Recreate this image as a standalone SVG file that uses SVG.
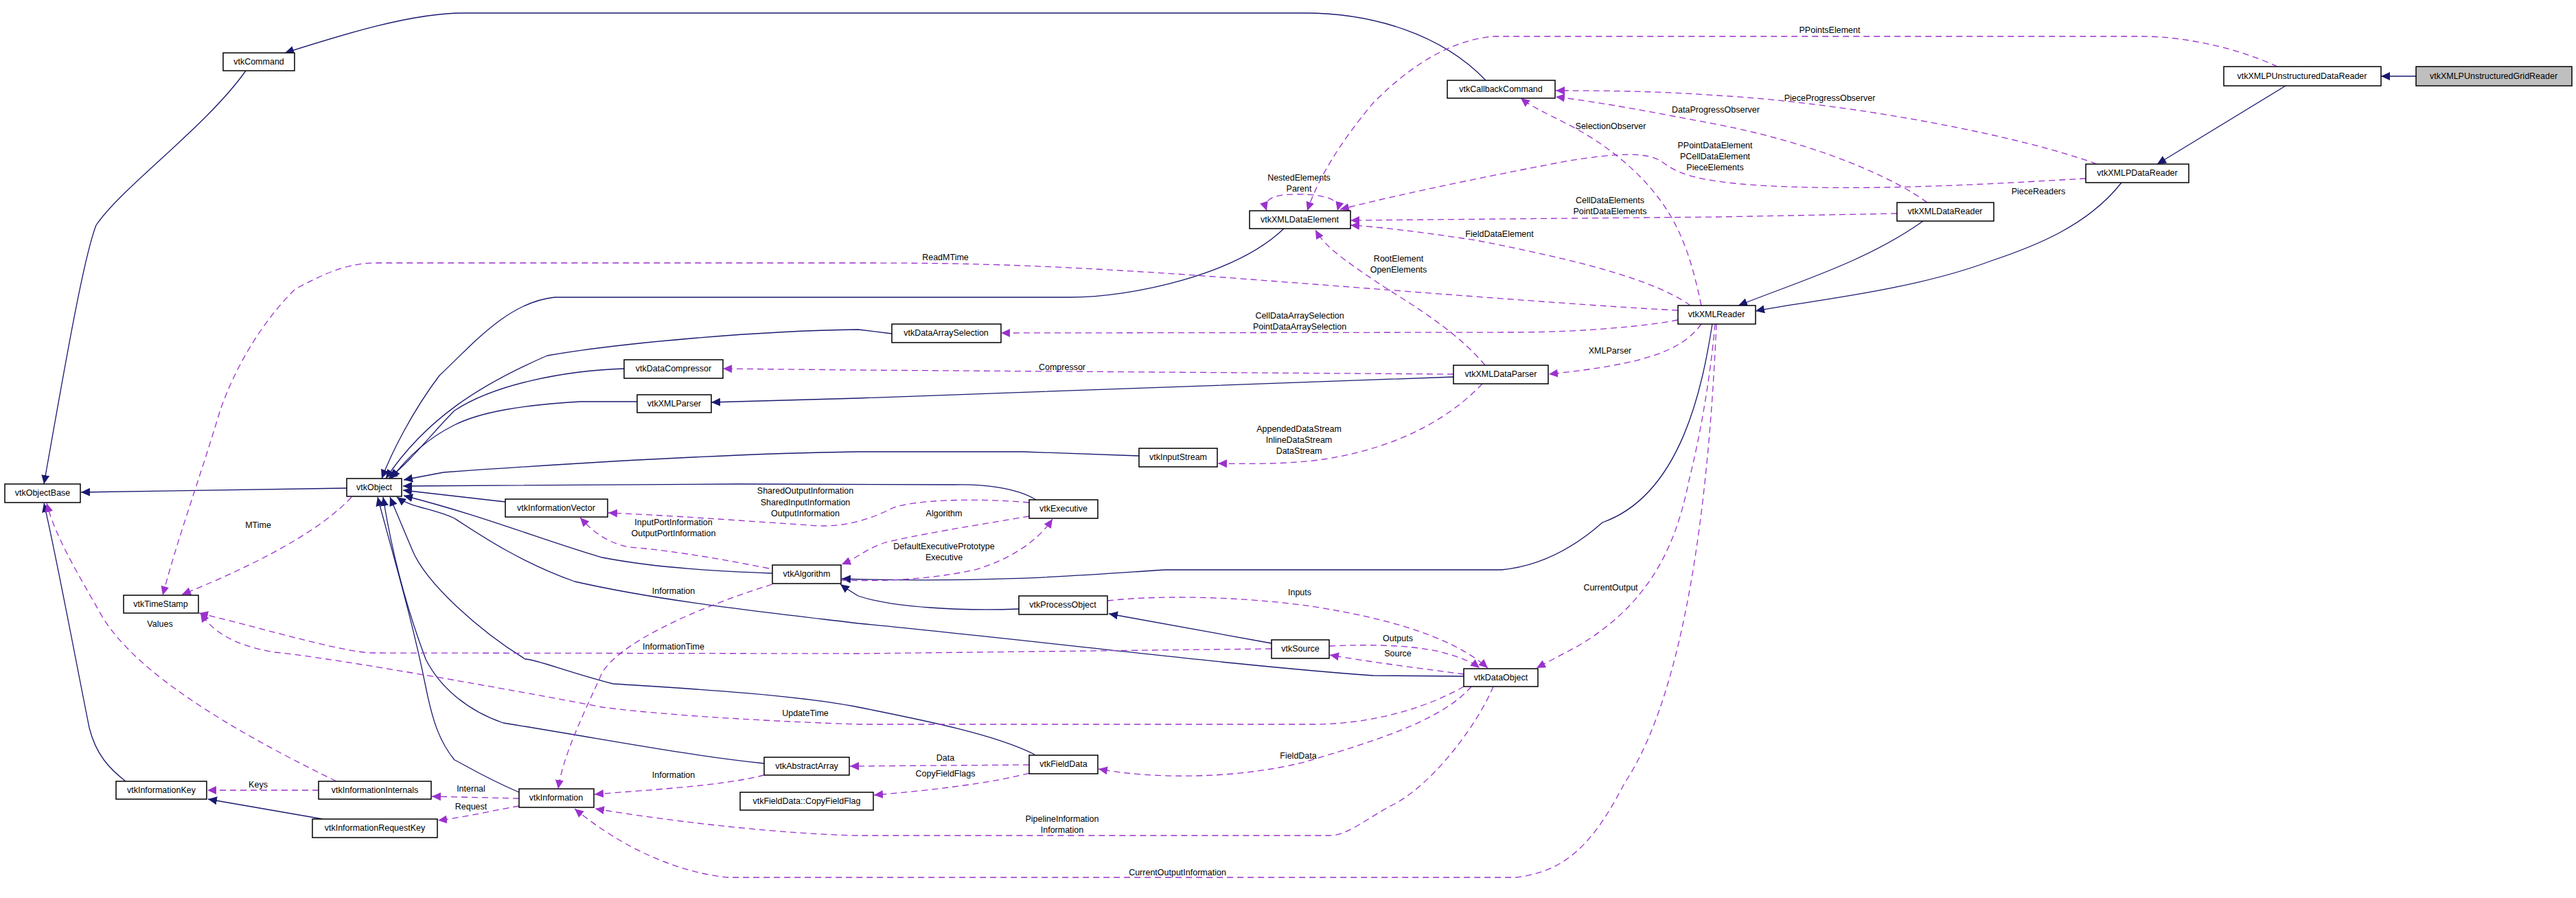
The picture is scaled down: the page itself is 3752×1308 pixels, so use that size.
<svg xmlns="http://www.w3.org/2000/svg" width="3752" height="1308" viewBox="0 0 3752 1308">
<style>
text{font-family:"Liberation Sans",Arial,sans-serif;font-size:12.5px;fill:#000;text-anchor:middle;dominant-baseline:central}
.n rect{fill:#fff;stroke:#000;stroke-width:1.5}
.s{fill:none;stroke:#191970;stroke-width:1.3;marker-end:url(#ab)}
.d{fill:none;stroke:#9a32cd;stroke-width:1.3;stroke-dasharray:9,6;marker-end:url(#ap)}
</style>
<defs>
<marker id="ab" markerUnits="userSpaceOnUse" markerWidth="14" markerHeight="12" refX="13" refY="6" orient="auto"><path d="M0,0 L13,6 L0,12 z" fill="#191970"/></marker>
<marker id="ap" markerUnits="userSpaceOnUse" markerWidth="14" markerHeight="12" refX="13" refY="6" orient="auto"><path d="M0,0 L13,6 L0,12 z" fill="#9a32cd"/></marker>
<marker id="apr" markerUnits="userSpaceOnUse" markerWidth="14" markerHeight="12" refX="13" refY="6" orient="auto-start-reverse"><path d="M0,0 L13,6 L0,12 z" fill="#9a32cd"/></marker>
</defs>
<rect width="3752" height="1308" fill="#fff"/>
<g id="connectors">
<path class="s" d="M3519,111 L3468,111"/>
<path class="s" d="M3329,125 L3142,239"/>
<path class="s" d="M3090,266 C3040,330 2960,360 2900,380 C2780,425 2620,440 2557,453"/>
<path class="s" d="M2801,322 C2720,380 2620,410 2532,445"/>
<path class="s" d="M2494,472 C2480,560 2450,720 2334,761 C2290,800 2240,825 2187,830 L1696,830 C1600,836 1450,850 1226,843"/>
<path class="s" d="M2164,117 C2100,50 2000,19 1900,19 L674,19 C600,19 500,50 415,77"/>
<path class="s" d="M358,103 C300,185 180,270 140,328 C120,380 90,560 64,705"/>
<path class="s" d="M1870,333 C1800,400 1650,433 1557,433 L808,433 C740,440 690,500 640,547 C600,600 570,660 556,697"/>
<path class="s" d="M1299,486 L1250,480 C1100,482 900,500 797,518 C700,560 620,610 562,697"/>
<path class="s" d="M909,537 C820,540 720,560 662,598 C630,630 600,670 566,697"/>
<path class="s" d="M2117,549 L1250,580 L1036,586"/>
<path class="s" d="M928,585 L845,585 C760,590 700,600 662,619 C620,640 590,670 570,697"/>
<path class="s" d="M1659,664 L1490,658 L1250,658 C1100,660 900,670 646,688 L588,699"/>
<path class="s" d="M1509,728 C1480,710 1430,705 1390,706 L1076,705 L587,708"/>
<path class="s" d="M736,731 L587,714"/>
<path class="s" d="M1125,835 C1050,832 960,828 877,812 C800,790 700,750 588,722"/>
<path class="s" d="M1484,887 C1400,890 1300,885 1250,868 C1240,862 1232,857 1224,851"/>
<path class="s" d="M1852,937 L1615,894"/>
<path class="s" d="M2132,985 L2000,984 C1800,970 1500,932 1250,908 C1100,890 960,875 837,847 C760,820 700,780 662,755 C630,740 600,740 578,724"/>
<path class="s" d="M1507,1099 C1450,1070 1350,1050 1250,1030 C1150,1010 950,1000 893,996 C830,980 780,960 765,960 C700,920 620,850 600,800 L568,724"/>
<path class="s" d="M1113,1112 C1000,1100 900,1080 733,1053 C680,1035 640,1000 620,960 C590,880 570,800 558,724"/>
<path class="s" d="M756,1154 C700,1130 670,1110 662,1107 C640,1080 630,1050 620,1000 C600,900 570,800 550,724"/>
<path class="s" d="M505,711 L118,717"/>
<path class="s" d="M183,1138 C160,1120 140,1100 130,1060 C110,960 80,800 64,733"/>
<path class="s" d="M470,1193 L303,1164"/>
<path class="d" d="M3317,97 C3260,70 3180,53 3122,53 L2175,53 C2100,60 2040,110 2000,150 C1950,210 1920,260 1904,307"/>
<path class="d" d="M3054,239 C2950,200 2700,150 2500,139 C2420,133 2350,132 2266,132"/>
<path class="d" d="M2807,295 C2760,260 2650,210 2500,181 C2420,166 2340,150 2266,141"/>
<path class="d" d="M2478,445 C2460,360 2440,300 2366,236 C2300,180 2250,170 2215,143"/>
<path class="d" d="M3038,260 C2900,268 2700,280 2548,269 C2460,262 2440,250 2420,235 C2400,222 2360,222 2286,234 C2200,250 2050,280 1952,305"/>
<path class="d" d="M2763,311 L2500,316 L1967,321"/>
<path class="d" d="M2462,445 C2400,400 2250,370 2150,350 C2050,335 2000,330 1967,328"/>
<path class="d" style="marker-start:url(#apr)" d="M1845,307 C1840,292 1850,283 1888,283 C1935,283 1952,292 1948,307"/>
<path class="d" d="M2163,532 C2120,480 2050,440 2007,412 C1960,380 1930,360 1916,335"/>
<path class="d" d="M2444,452 C2300,445 2000,420 1728,400 C1500,385 1400,383 1250,383 L542,383 C500,385 470,400 430,421 C380,470 340,540 320,600 C290,700 260,780 237,867"/>
<path class="d" d="M2444,466 C2400,475 2300,484 2207,484 L1458,485"/>
<path class="d" d="M2117,545 L1250,539 L1053,537"/>
<path class="d" d="M2478,472 C2450,510 2400,530 2256,545"/>
<path class="d" d="M2159,559 C2120,600 2050,650 1928,669 C1880,676 1820,676 1774,675"/>
<path class="d" d="M2498,472 C2490,560 2475,640 2460,700 C2440,800 2400,880 2300,940 L2238,973"/>
<path class="d" d="M2500,472 C2490,700 2460,1000 2366,1141 C2320,1230 2280,1270 2207,1278 L1060,1278 C980,1270 900,1230 837,1178"/>
<path class="d" d="M2175,1000 C2150,1060 2080,1150 2023,1175 C1980,1200 1960,1217 1936,1217 L1250,1217 C1150,1215 1000,1200 867,1178"/>
<path class="d" d="M2143,1000 C2100,1050 2000,1080 1900,1110 C1800,1135 1680,1135 1600,1120"/>
<path class="d" d="M2132,1000 C2080,1030 2000,1055 1912,1055 L1250,1055 C1100,1050 950,1040 877,1030 C800,1015 500,960 400,950 C340,940 310,920 292,893"/>
<path class="d" d="M1852,945 L1250,952 L542,951 C500,950 400,920 290,893"/>
<path class="d" d="M1613,875 C1700,865 1850,870 1950,890 C2060,910 2130,940 2167,973"/>
<path class="d" d="M1936,941 C2000,938 2060,940 2100,950 C2130,958 2145,965 2155,973"/>
<path class="d" d="M2132,982 C2080,975 2000,965 1937,954"/>
<path class="d" d="M1499,752 C1420,765 1330,780 1290,790 C1260,800 1250,812 1226,822"/>
<path class="d" d="M1225,845 C1280,847 1350,845 1420,830 C1470,815 1510,790 1533,756"/>
<path class="d" d="M1499,732 C1420,725 1330,728 1300,740 C1270,755 1230,770 1180,765 C1100,760 1000,752 886,747"/>
<path class="d" d="M1120,828 C1030,810 960,800 917,797 C880,790 860,770 845,754"/>
<path class="d" d="M1125,851 C1000,890 900,940 877,980 C850,1040 820,1100 813,1149"/>
<path class="d" d="M1113,1129 C1050,1145 950,1150 866,1157"/>
<path class="d" d="M1499,1114 L1238,1116"/>
<path class="d" d="M1499,1126 C1450,1140 1350,1152 1273,1158"/>
<path class="d" d="M756,1163 L629,1160"/>
<path class="d" d="M756,1174 C720,1180 680,1190 638,1195"/>
<path class="d" d="M464,1151 L302,1151"/>
<path class="d" d="M490,1138 C330,1060 200,980 150,900 C110,830 80,780 68,733"/>
<path class="d" d="M512,724 C470,770 380,820 265,866"/>
</g>
<g id="labels">
<text x="376" y="765">MTime</text>
<text x="233" y="909">Values</text>
<text x="376" y="1143">Keys</text>
<text x="686" y="1149">Internal</text>
<text x="686" y="1175">Request</text>
<text x="981" y="1129">Information</text>
<text x="981" y="861">Information</text>
<text x="981" y="942">InformationTime</text>
<text x="1173" y="1039">UpdateTime</text>
<text x="1173" y="715">SharedOutputInformation</text>
<text x="1173" y="732">SharedInputInformation</text>
<text x="1173" y="748">OutputInformation</text>
<text x="981" y="761">InputPortInformation</text>
<text x="981" y="777">OutputPortInformation</text>
<text x="1375" y="748">Algorithm</text>
<text x="1375" y="796">DefaultExecutivePrototype</text>
<text x="1375" y="812">Executive</text>
<text x="1892" y="625">AppendedDataStream</text>
<text x="1892" y="641">InlineDataStream</text>
<text x="1892" y="657">DataStream</text>
<text x="1893" y="863">Inputs</text>
<text x="2036" y="930">Outputs</text>
<text x="2036" y="952">Source</text>
<text x="2346" y="856">CurrentOutput</text>
<text x="1891" y="1101">FieldData</text>
<text x="1377" y="1104">Data</text>
<text x="1377" y="1127">CopyFieldFlags</text>
<text x="1547" y="1193">PipelineInformation</text>
<text x="1547" y="1209">Information</text>
<text x="1715" y="1271">CurrentOutputInformation</text>
<text x="1892" y="259">NestedElements</text>
<text x="1892" y="275">Parent</text>
<text x="2346" y="184">SelectionObserver</text>
<text x="2498" y="212">PPointDataElement</text>
<text x="2498" y="228">PCellDataElement</text>
<text x="2498" y="244">PieceElements</text>
<text x="2345" y="292">CellDataElements</text>
<text x="2345" y="308">PointDataElements</text>
<text x="2184" y="341">FieldDataElement</text>
<text x="1377" y="375">ReadMTime</text>
<text x="2037" y="377">RootElement</text>
<text x="2037" y="393">OpenElements</text>
<text x="1893" y="460">CellDataArraySelection</text>
<text x="1893" y="476">PointDataArraySelection</text>
<text x="2345" y="511">XMLParser</text>
<text x="1547" y="535">Compressor</text>
<text x="2499" y="160">DataProgressObserver</text>
<text x="2665" y="44">PPointsElement</text>
<text x="2665" y="143">PieceProgressObserver</text>
<text x="2969" y="279">PieceReaders</text>
</g>
<g id="vtkXMLPUnstructuredGridReader" class="n"><rect x="3519" y="97" width="227" height="28" style="fill:#bfbfbf"/><text x="3632" y="111">vtkXMLPUnstructuredGridReader</text></g>
<g id="vtkXMLPUnstructuredDataReader" class="n"><rect x="3239" y="97" width="229" height="28"/><text x="3353" y="111">vtkXMLPUnstructuredDataReader</text></g>
<g id="vtkXMLPDataReader" class="n"><rect x="3038" y="239" width="150" height="27"/><text x="3113" y="252">vtkXMLPDataReader</text></g>
<g id="vtkXMLDataReader" class="n"><rect x="2763" y="295" width="141" height="27"/><text x="2833" y="308">vtkXMLDataReader</text></g>
<g id="vtkXMLReader" class="n"><rect x="2444" y="445" width="113" height="27"/><text x="2500" y="458">vtkXMLReader</text></g>
<g id="vtkCallbackCommand" class="n"><rect x="2108" y="117" width="157" height="26"/><text x="2186" y="130">vtkCallbackCommand</text></g>
<g id="vtkXMLDataElement" class="n"><rect x="1820" y="307" width="147" height="26"/><text x="1893" y="320">vtkXMLDataElement</text></g>
<g id="vtkDataArraySelection" class="n"><rect x="1299" y="472" width="159" height="27"/><text x="1378" y="485">vtkDataArraySelection</text></g>
<g id="vtkXMLDataParser" class="n"><rect x="2117" y="532" width="138" height="27"/><text x="2186" y="545">vtkXMLDataParser</text></g>
<g id="vtkInputStream" class="n"><rect x="1659" y="653" width="114" height="27"/><text x="1716" y="666">vtkInputStream</text></g>
<g id="vtkCommand" class="n"><rect x="325" y="77" width="104" height="26"/><text x="377" y="90">vtkCommand</text></g>
<g id="vtkDataCompressor" class="n"><rect x="909" y="524" width="144" height="27"/><text x="981" y="537">vtkDataCompressor</text></g>
<g id="vtkXMLParser" class="n"><rect x="928" y="575" width="108" height="26"/><text x="982" y="588">vtkXMLParser</text></g>
<g id="vtkObjectBase" class="n"><rect x="7" y="705" width="110" height="27"/><text x="62" y="718">vtkObjectBase</text></g>
<g id="vtkObject" class="n"><rect x="505" y="697" width="80" height="26"/><text x="545" y="710">vtkObject</text></g>
<g id="vtkInformationVector" class="n"><rect x="736" y="727" width="149" height="26"/><text x="810" y="740">vtkInformationVector</text></g>
<g id="vtkExecutive" class="n"><rect x="1499" y="728" width="100" height="27"/><text x="1549" y="741">vtkExecutive</text></g>
<g id="vtkAlgorithm" class="n"><rect x="1125" y="823" width="100" height="27"/><text x="1175" y="836">vtkAlgorithm</text></g>
<g id="vtkProcessObject" class="n"><rect x="1484" y="868" width="129" height="27"/><text x="1548" y="881">vtkProcessObject</text></g>
<g id="vtkSource" class="n"><rect x="1852" y="932" width="84" height="27"/><text x="1894" y="945">vtkSource</text></g>
<g id="vtkDataObject" class="n"><rect x="2132" y="974" width="108" height="26"/><text x="2186" y="987">vtkDataObject</text></g>
<g id="vtkTimeStamp" class="n"><rect x="180" y="867" width="109" height="26"/><text x="234" y="880">vtkTimeStamp</text></g>
<g id="vtkAbstractArray" class="n"><rect x="1113" y="1103" width="124" height="26"/><text x="1175" y="1116">vtkAbstractArray</text></g>
<g id="vtkFieldData" class="n"><rect x="1499" y="1100" width="100" height="27"/><text x="1549" y="1113">vtkFieldData</text></g>
<g id="vtkFieldData_CopyFieldFlag" class="n"><rect x="1078" y="1154" width="194" height="26"/><text x="1175" y="1167">vtkFieldData::CopyFieldFlag</text></g>
<g id="vtkInformationKey" class="n"><rect x="169" y="1138" width="132" height="26"/><text x="235" y="1151">vtkInformationKey</text></g>
<g id="vtkInformationInternals" class="n"><rect x="464" y="1138" width="164" height="26"/><text x="546" y="1151">vtkInformationInternals</text></g>
<g id="vtkInformation" class="n"><rect x="756" y="1149" width="109" height="27"/><text x="810" y="1162">vtkInformation</text></g>
<g id="vtkInformationRequestKey" class="n"><rect x="455" y="1193" width="182" height="27"/><text x="546" y="1206">vtkInformationRequestKey</text></g>
</svg>
